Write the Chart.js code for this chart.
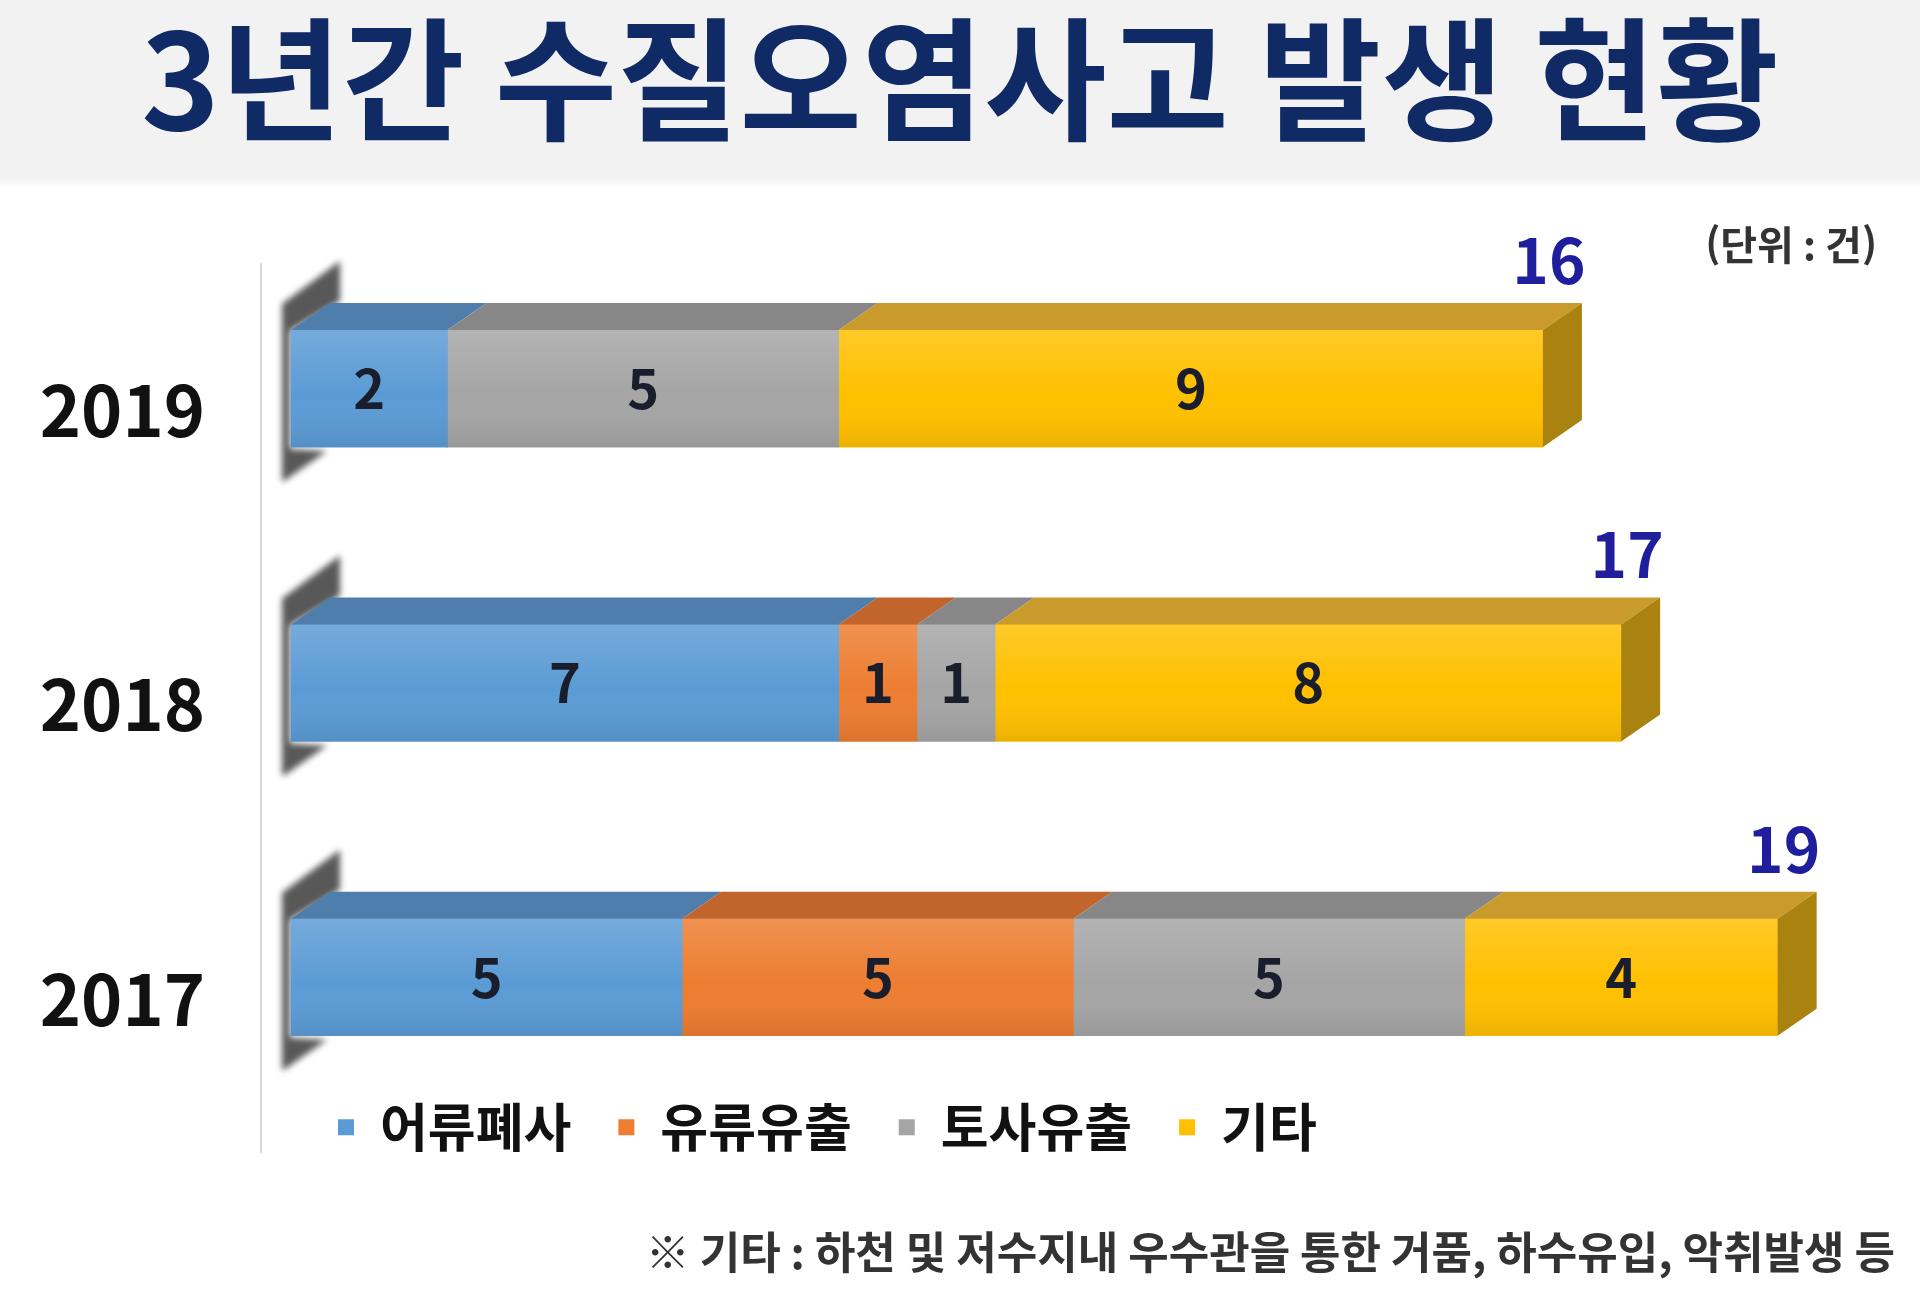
<!DOCTYPE html>
<html lang="ko">
<head>
<meta charset="utf-8">
<script src="https://cdn.jsdelivr.net/npm/chart.js@4.4.0/dist/chart.umd.min.js"></script>
<style>
html, body { margin: 0; padding: 0; background: #fff; }
</style>
</head>
<body>
<canvas id="myChart" width="1920" height="1296"></canvas>
<script>
'use strict'
const years = ['2019', '2018', '2017']
const seriesNames = ['어류폐사', '유류유출', '토사유출', '기타']
const fishKill = [2, 7, 5]
const oilSpill = [0, 1, 5]
const soilSpill = [5, 1, 5]
const others = [9, 8, 4]

const titleText = '3년간 수질오염사고 발생 현황'
const unitText = '(단위 : 건)'
const noteText = '※ 기타 : 하천 및 저수지내 우수관을 통한 거품, 하수유입, 악취발생 등'

const frontColors = ['#5b9bd5', '#ed7d31', '#a5a5a5', '#ffc000']
const topColors = ['#4f7eac', '#c2652c', '#878787', '#c89b2c']
const endColors = ['#3f6c98', '#a8561f', '#6f6f6f', '#a98210']
const depthX = 39
const depthY = 27

Chart.defaults.font.family = "'Noto Sans CJK KR', 'Noto Sans', sans-serif"

// 3D look, values, totals and side texts
const boxPlugin = {
    id: 'box3d',
    beforeDraw(chart) {
        const c = chart.ctx
        c.save()
        c.fillStyle = '#f2f2f2'
        c.fillRect(0, 0, chart.width, 178)
        const g = c.createLinearGradient(0, 178, 0, 188)
        g.addColorStop(0, 'rgba(0,0,0,0.05)')
        g.addColorStop(1, 'rgba(0,0,0,0)')
        c.fillStyle = g
        c.fillRect(0, 178, chart.width, 10)
        c.restore()
    },
    beforeDatasetsDraw(chart) {
        const c = chart.ctx
        const base = chart.scales.x.getPixelForValue(0)
        const bars = chart.getDatasetMeta(0).data
        c.save()
        // axis line
        const firstTop = bars[0].y - bars[0].height / 2
        c.strokeStyle = '#d9d9d9'
        c.lineWidth = 2
        c.beginPath()
        c.moveTo(base - 30, firstTop - depthY - 40)
        c.lineTo(base - 30, chart.legend.bottom - 10)
        c.stroke()
        // dark shadow at the left end of every bar
        c.filter = 'blur(3px)'
        c.fillStyle = 'rgba(70,70,70,0.9)'
        bars.forEach((bar) => {
            const top = bar.y - bar.height / 2
            const bottom = bar.y + bar.height / 2
            c.beginPath()
            c.moveTo(base - 9, top - 26)
            c.lineTo(base + depthX + 10, top - 69)
            c.lineTo(base + depthX + 10, top - 29)
            c.lineTo(base - 1, top + 1)
            c.lineTo(base - 1, bottom + 2)
            c.lineTo(base + 36, bottom + 4)
            c.lineTo(base - 7, bottom + 34)
            c.lineTo(base - 9, bottom + 34)
            c.closePath()
            c.fill()
        })
        c.restore()
    },
    afterDatasetsDraw(chart) {
        const c = chart.ctx
        c.save()
        years.forEach((yr, i) => {
            let last = null
            let total = 0
            chart.data.datasets.forEach((ds, k) => {
                const v = ds.data[i]
                if (!v) return
                total += v
                const bar = chart.getDatasetMeta(k).data[i]
                const left = Math.min(bar.base, bar.x)
                const right = Math.max(bar.base, bar.x)
                const top = bar.y - bar.height / 2
                const bottom = bar.y + bar.height / 2
                const g = c.createLinearGradient(0, top, 0, bottom)
                g.addColorStop(0, 'rgba(255,255,255,0.16)')
                g.addColorStop(0.55, 'rgba(255,255,255,0)')
                g.addColorStop(1, 'rgba(0,0,0,0.08)')
                c.fillStyle = g
                c.fillRect(left, top, right - left, bottom - top)
                c.fillStyle = topColors[k]
                c.beginPath()
                c.moveTo(left, top)
                c.lineTo(right, top)
                c.lineTo(right + depthX, top - depthY)
                c.lineTo(left + depthX, top - depthY)
                c.closePath()
                c.fill()
                c.fillStyle = '#1a1d2c'
                c.font = "bold 54px 'Noto Sans CJK KR', sans-serif"
                c.textAlign = 'center'
                c.textBaseline = 'middle'
                c.fillText(String(v), (left + right) / 2, bar.y)
                last = { k, right, top, bottom }
            })
            if (!last) return
            c.fillStyle = endColors[last.k]
            c.beginPath()
            c.moveTo(last.right, last.top)
            c.lineTo(last.right + depthX, last.top - depthY)
            c.lineTo(last.right + depthX, last.bottom - depthY)
            c.lineTo(last.right, last.bottom)
            c.closePath()
            c.fill()
            c.fillStyle = '#1f1f9e'
            c.font = "bold 62px 'Noto Sans CJK KR', sans-serif"
            c.textAlign = 'center'
            c.textBaseline = 'alphabetic'
            c.fillText(String(total), last.right + 6, last.top - depthY - 19)
        })
        c.fillStyle = '#333333'
        c.font = "bold 40px 'Noto Sans CJK KR', sans-serif"
        c.textAlign = 'right'
        c.textBaseline = 'middle'
        c.fillText(unitText, chart.chartArea.right - 18, 245)
        c.restore()
    }
}

const ctx = document.getElementById('myChart')

new Chart(ctx, {
    type: 'bar',
    data: {
        labels: years,
        datasets: [fishKill, oilSpill, soilSpill, others].map((values, k) => ({
            label: seriesNames[k],
            data: values,
            backgroundColor: frontColors[k],
            borderWidth: 0,
            barThickness: 117,
            clip: false,
        })),
    },
    options: {
        indexAxis: 'y',
        responsive: false,
        animation: false,
        layout: { padding: { left: 25, right: 25, top: 0, bottom: 0 } },
        scales: {
            x: {
                stacked: true,
                min: 0,
                max: 20.5,
                grid: { display: false },
                border: { display: false },
                ticks: { display: false },
                afterFit(scale) { scale.height = 77 },
            },
            y: {
                stacked: true,
                offset: false,
                grid: { display: false },
                border: { display: false },
                ticks: {
                    color: '#111111',
                    font: { size: 70, weight: 'bold' },
                    padding: 78,
                    labelOffset: 22,
                },
                afterFit(scale) { scale.width = 266 },
            },
        },
        plugins: {
            title: {
                display: true,
                text: titleText,
                color: '#102a66',
                font: { size: 133, weight: 'bold' },
                padding: { top: 0, bottom: 229 },
            },
            subtitle: {
                display: true,
                position: 'bottom',
                align: 'end',
                text: noteText,
                color: '#333333',
                font: { size: 44, weight: 'bold' },
                padding: { top: 63, bottom: 17 },
            },
            legend: {
                position: 'bottom',
                align: 'start',
                fullSize: false,
                labels: {
                    boxWidth: 16,
                    boxHeight: 16,
                    padding: 47,
                    color: '#111111',
                    font: { size: 52, weight: 'bold' },
                },
            },
            tooltip: { enabled: false },
        },
    },
    plugins: [boxPlugin],
})
</script>
</body>
</html>
